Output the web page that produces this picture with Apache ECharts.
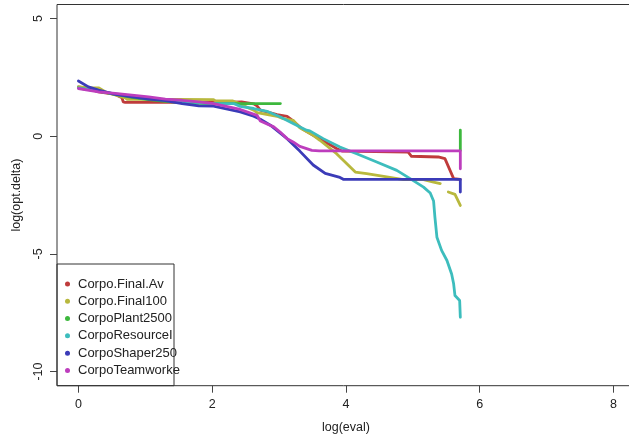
<!DOCTYPE html>
<html>
<head>
<meta charset="utf-8">
<script src="https://cdn.jsdelivr.net/npm/echarts@6/dist/echarts.min.js"></script>
<style>
html,body{margin:0;padding:0;background:#fff;}
#c{width:629px;height:435px;}
</style>
</head>
<body>
<div id="c"></div>
<script>
// ---- data ----
const seriesNames = ['Corpo.Final.Av','Corpo.Final100','CorpoPlant2500','CorpoResourceI','CorpoShaper250','CorpoTeamworke'];
const xTicks = [0,2,4,6,8];
const yTicks = [-10,-5,0,5];

const finalAv = [[0,2.10],[0.15,2.03],[0.30,1.89],[0.55,1.78],[0.65,1.64],[0.67,1.46],[0.70,1.44],[1.30,1.44],[1.80,1.44],[2.30,1.45],[2.44,1.46],[2.62,1.38],[2.67,1.29],[2.72,1.11],[2.97,0.92],[3.12,0.85],[3.21,0.65],[3.34,0.33],[3.51,0.04],[3.69,-0.24],[3.86,-0.52],[3.94,-0.63],[4.93,-0.67],[4.98,-0.85],[5.38,-0.88],[5.48,-0.95],[5.61,-1.80],[5.71,-1.83]];
const final100 = [[0,2.10],[0.15,2.07],[0.30,2.06],[0.40,1.89],[0.55,1.76],[0.70,1.63],[0.73,1.57],[1.50,1.57],[2.02,1.56],[2.05,1.50],[2.31,1.50],[2.38,1.42],[2.62,1.11],[2.67,1.01],[2.97,0.85],[3.06,0.75],[3.21,0.68],[3.31,0.36],[3.41,0.20],[3.51,0.04],[3.61,-0.17],[3.86,-0.74],[4.14,-1.52],[4.31,-1.59],[4.61,-1.73],[4.86,-1.84],[5.16,-1.84],[5.31,-1.95],[5.41,-2.01],[5.47,'-'],[5.53,-2.37],[5.63,-2.47],[5.71,-2.94]];
const plant2500 = [[0,2.05],[0.30,1.92],[0.55,1.78],[0.80,1.65],[1.05,1.56],[1.30,1.48],[1.55,1.43],[1.80,1.40],[2.02,1.39],[3.02,1.39],[4.50,'-'],[5.71,0.26],[5.71,-0.60]];
const resourceI = [[0,2.06],[0.30,1.92],[0.55,1.80],[0.80,1.71],[1.05,1.62],[1.30,1.53],[1.55,1.47],[1.80,1.43],[2.02,1.39],[2.32,1.39],[2.42,1.27],[2.62,1.18],[2.82,1.06],[3.02,0.82],[3.21,0.54],[3.41,0.26],[3.46,0.23],[3.66,-0.10],[3.91,-0.46],[4.16,-0.74],[4.46,-1.09],[4.76,-1.45],[4.96,-1.80],[5.16,-2.16],[5.26,-2.41],[5.28,-2.44],[5.31,-2.75],[5.33,-3.44],[5.36,-4.29],[5.43,-4.85],[5.51,-5.28],[5.58,-5.85],[5.61,-6.27],[5.63,-6.77],[5.70,-6.98],[5.71,-7.69]];
const shaper250 = [[0,2.35],[0.15,2.10],[0.30,1.96],[0.55,1.78],[0.80,1.67],[1.05,1.58],[1.30,1.52],[1.55,1.39],[1.72,1.32],[1.80,1.29],[2.02,1.28],[2.42,1.04],[2.62,0.85],[2.72,0.72],[2.87,0.47],[3.12,-0.10],[3.31,-0.63],[3.51,-1.22],[3.69,-1.58],[3.91,-1.75],[3.96,-1.83],[5.71,-1.83],[5.71,-2.37]];
const teamworke = [[0,2.03],[0.30,1.89],[0.55,1.82],[0.80,1.75],[1.05,1.67],[1.30,1.58],[1.55,1.53],[1.80,1.46],[2.02,1.39],[2.42,1.14],[2.67,0.89],[2.72,0.65],[2.92,0.40],[3.02,0.17],[3.12,-0.10],[3.21,-0.24],[3.31,-0.43],[3.49,-0.60],[3.60,-0.62],[5.71,-0.62],[5.71,-1.38]];

const allData = [finalAv, final100, plant2500, resourceI, shaper250, teamworke];
const colors = ['#BF3B3B','#B8B83D','#3DB83D','#3DBDBD','#3B3BB8','#BD3DBD'];

const FONT = 'Liberation Sans, Arial, sans-serif';
const chart = echarts.init(document.getElementById('c'), null, {renderer:'canvas'});
chart.setOption({
  animation:false,
  backgroundColor:'#fff',
  color: colors,
  grid:{left:57, top:4.5, width:577.9, height:381.2, show:true, borderColor:'#333', borderWidth:1, backgroundColor:'transparent', outerBoundsMode:'none', containLabel:false},
  xAxis:{
    type:'value', min:-0.32, max:8.32,
    axisLine:{show:false, onZero:false},
    splitLine:{show:false},
    axisTick:{show:true, customValues:xTicks, length:7, lineStyle:{color:'#444'}},
    axisLabel:{customValues:xTicks, margin:12, fontSize:12.5, color:'#222', fontFamily:FONT},
    name:'log(eval)', nameLocation:'middle', nameGap:35,
    nameTextStyle:{fontSize:12.5, color:'#222', fontFamily:FONT}
  },
  yAxis:{
    type:'value', min:-10.6, max:5.6,
    axisLine:{show:false, onZero:false},
    splitLine:{show:false},
    axisTick:{show:true, customValues:yTicks, length:7, lineStyle:{color:'#444'}},
    axisLabel:{customValues:yTicks, margin:12, rotate:90, fontSize:12.5, color:'#222', fontFamily:FONT},
    name:'log(opt.delta)', nameLocation:'middle', nameGap:34,
    nameTextStyle:{fontSize:12.5, color:'#222', fontFamily:FONT}
  },
  legend:{
    orient:'vertical', left:65, top:275.3, padding:0, itemGap:0,
    icon:'circle', itemWidth:5, itemHeight:5, selectedMode:false,
    data: seriesNames,
    textStyle:{fontSize:13, color:'#222', fontFamily:FONT, lineHeight:17.3, padding:[0,0,0,3]}
  },
  graphic:[{type:'rect', shape:{x:57, y:264, width:117, height:121.7}, style:{fill:'transparent', stroke:'#333', lineWidth:1}, z:100}],
  series: seriesNames.map((n,i)=>({
    name:n, type:'line', data:allData[i], showSymbol:false, symbol:'none',
    connectNulls:false, z:2+i,
    lineStyle:{width:2.8, color:colors[i], cap:'round', join:'round'},
    itemStyle:{color:colors[i]}
  }))
});
</script>
</body>
</html>
